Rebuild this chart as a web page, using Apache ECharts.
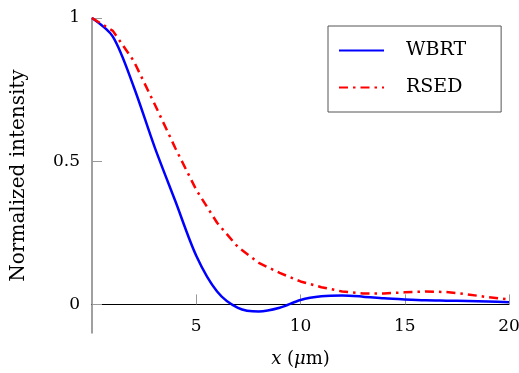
<!DOCTYPE html>
<html>
<head>
<meta charset="utf-8">
<script src="https://cdn.jsdelivr.net/npm/echarts@6/dist/echarts.min.js"></script>
<style>
  html, body { margin: 0; padding: 0; background: #fff; }
  #chart { width: 519px; height: 373px; }
</style>
</head>
<body>
<div id="chart"></div>
<script>
// positions along x (um)
const xValues = [0, 1, 2, 3, 4, 5, 6, 7, 8, 9, 10, 11, 12, 13, 14, 15, 16, 17, 18, 19, 20];
const wbrt = [1.0, 0.935, 0.76, 0.55, 0.36, 0.17, 0.045, -0.012, -0.025, -0.012, 0.015, 0.028, 0.031, 0.027, 0.021, 0.017, 0.014, 0.013, 0.012, 0.01, 0.007];
const rsed = [1.0, 0.955, 0.85, 0.70, 0.545, 0.40, 0.285, 0.20, 0.145, 0.11, 0.08, 0.06, 0.045, 0.038, 0.038, 0.042, 0.045, 0.043, 0.035, 0.025, 0.017];
const xTicks = [5, 10, 15, 20];
const yTicks = [0, 0.5, 1];

const font = "'DejaVu Serif', 'Liberation Serif', serif";

const pairs = (ys) => xValues.map((x, i) => [x, ys[i]]);

const chart = echarts.init(document.getElementById("chart"));
chart.setOption({
    animation: false,
    textStyle: { fontFamily: font },
    grid: { left: 92, right: 10, top: 18, bottom: 40, outerBoundsMode: "none", containLabel: false },
    legend: {
        orient: "vertical",
        left: 328,
        top: 26,
        padding: [15, 35, 15, 10],
        itemGap: 18,
        itemWidth: 45,
        itemHeight: 20,
        borderColor: "#555",
        borderWidth: 1,
        backgroundColor: "#fff",
        itemStyle: { opacity: 0 },
        textStyle: { fontFamily: font, fontSize: 19, color: "#000", padding: [0, 0, 0, 17] },
        data: ["WBRT", "RSED"],
    },
    xAxis: {
        type: "value",
        min: 0,
        max: 20,
        interval: 5,
        name: "{i|x} ({i|μ}m)",
        nameLocation: "middle",
        nameGap: 17,
        nameTextStyle: {
            fontSize: 18,
            color: "#000",
            rich: { i: { fontStyle: "italic", fontSize: 18, fontFamily: font } },
        },
        axisLine: { onZero: true, lineStyle: { color: "#000", width: 1 } },
        axisTick: { inside: true, length: 10, customValues: xTicks, lineStyle: { color: "#999", width: 1 } },
        axisLabel: { customValues: xTicks, margin: -15, fontSize: 17, color: "#000" },
        splitLine: { show: false },
    },
    yAxis: {
        type: "value",
        min: -0.1,
        max: 1,
        name: "Normalized intensity",
        nameLocation: "middle",
        nameGap: 63,
        nameTextStyle: { fontSize: 20, color: "#000" },
        axisLine: { onZero: false, lineStyle: { color: "#808080", width: 1.5 } },
        axisTick: { inside: true, length: 10, customValues: yTicks, lineStyle: { color: "#999", width: 1 } },
        axisLabel: { customValues: yTicks, margin: 12, fontSize: 17, color: "#000" },
        splitLine: { show: false },
    },
    series: [
        {
            name: "WBRT",
            type: "line",
            data: pairs(wbrt),
            showSymbol: false,
            symbol: "none",
            smooth: 0.3,
            lineStyle: { color: "#0000ff", width: 2.5 },
            itemStyle: { color: "#0000ff" },
        },
        {
            name: "RSED",
            type: "line",
            data: pairs(rsed),
            showSymbol: false,
            symbol: "none",
            lineStyle: { color: "#ff0000", width: 2.5, type: [9, 5, 2.5, 5] },
            itemStyle: { color: "#ff0000" },
        },
    ],
});
</script>
</body>
</html>
